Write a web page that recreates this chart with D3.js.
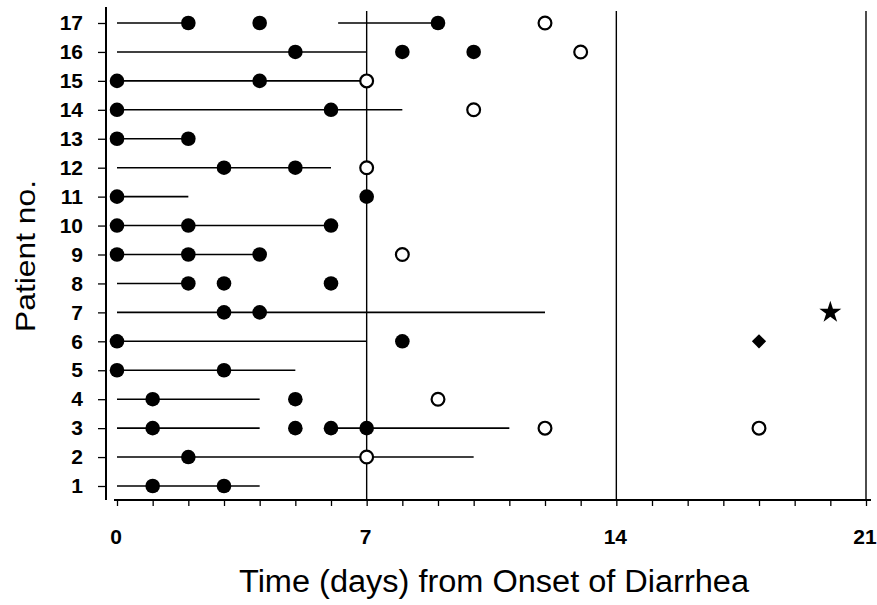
<!DOCTYPE html>
<html>
<head>
<meta charset="utf-8">
<script src="https://d3js.org/d3.v7.min.js"></script>
<style>
  body { margin: 0; background: #fff; }
  text { font-family: "Liberation Sans", Arial, sans-serif; fill: #000; }
</style>
</head>
<body>
<div id="chart"></div>
<script>
// patients on the y axis
var patients = d3.range(1, 18);
// horizontal bars: [patient, from day, to day]
var segments = [
  [17, 0, 2], [17, 6.2, 9],
  [16, 0, 7],
  [15, 0, 7],
  [14, 0, 8],
  [13, 0, 2],
  [12, 0, 6],
  [11, 0, 2],
  [10, 0, 6],
  [9, 0, 4],
  [8, 0, 2],
  [7, 0, 12],
  [6, 0, 7],
  [5, 0, 5],
  [4, 0, 4],
  [3, 0, 4], [3, 6, 11],
  [2, 0, 10],
  [1, 0, 4]
];
// filled circles: [patient, day]
var filled = [
  [17, 2], [17, 4], [17, 9],
  [16, 5], [16, 8], [16, 10],
  [15, 0], [15, 4],
  [14, 0], [14, 6],
  [13, 0], [13, 2],
  [12, 3], [12, 5],
  [11, 0], [11, 7],
  [10, 0], [10, 2], [10, 6],
  [9, 0], [9, 2], [9, 4],
  [8, 2], [8, 3], [8, 6],
  [7, 3], [7, 4],
  [6, 0], [6, 8],
  [5, 0], [5, 3],
  [4, 1], [4, 5],
  [3, 1], [3, 5], [3, 6], [3, 7],
  [2, 2],
  [1, 1], [1, 3]
];
// open circles: [patient, day]
var open = [
  [17, 12], [16, 13], [15, 7], [14, 10], [12, 7],
  [9, 8], [4, 9], [3, 12], [3, 18], [2, 7]
];
var diamonds = [[6, 18]];
var stars = [[7, 20]];
var dayTicks = d3.range(0, 22);
var dayLabels = [0, 7, 14, 21];
var refLines = [7, 14, 21];

var width = 877, height = 605;
var svg = d3.select("#chart").append("svg")
  .attr("width", width)
  .attr("height", height);

var x = d3.scaleLinear().domain([0, 21]).range([117, 866]);
var y = d3.scaleLinear().domain([1, 17]).range([486, 23]);

// vertical reference lines
svg.selectAll(".ref")
  .data(refLines)
  .enter().append("line")
  .attr("x1", d => x(d)).attr("x2", d => x(d))
  .attr("y1", 11).attr("y2", 500)
  .attr("stroke", "#000").attr("stroke-width", 1.4);

// y axis
var yAxis = svg.append("g")
  .attr("transform", "translate(106,0)")
  .call(d3.axisLeft(y).tickValues(patients).tickSize(8).tickPadding(15).tickSizeOuter(0));
yAxis.select(".domain").remove();
yAxis.append("line").attr("x1", 0).attr("x2", 0).attr("y1", 7).attr("y2", 500)
  .attr("stroke", "#000").attr("stroke-width", 2);
yAxis.selectAll(".tick line").attr("stroke-width", 1.3);
yAxis.selectAll(".tick text")
  .style("font-size", "21px").style("font-weight", "bold")
  .attr("font-family", null);

// x axis
var xAxis = svg.append("g")
  .attr("transform", "translate(0,500)")
  .call(d3.axisBottom(x).tickValues(dayTicks).tickSize(6).tickSizeOuter(0).tickFormat(""));
xAxis.select(".domain").remove();
xAxis.append("line").attr("x1", 114).attr("x2", 871).attr("y1", 0).attr("y2", 0)
  .attr("stroke", "#000").attr("stroke-width", 2);
xAxis.selectAll(".tick line").attr("stroke-width", 1.3);

svg.selectAll(".xlab")
  .data(dayLabels)
  .enter().append("text")
  .attr("x", d => x(d) - 1)
  .attr("y", 544)
  .attr("text-anchor", "middle")
  .style("font-size", "21px").style("font-weight", "bold")
  .text(d => d);

// segments
svg.selectAll(".seg")
  .data(segments)
  .enter().append("line")
  .attr("x1", d => x(d[1])).attr("x2", d => x(d[2]))
  .attr("y1", d => y(d[0])).attr("y2", d => y(d[0]))
  .attr("stroke", "#000").attr("stroke-width", 1.6);

// filled dots
svg.selectAll(".dot")
  .data(filled)
  .enter().append("circle")
  .attr("cx", d => x(d[1])).attr("cy", d => y(d[0]))
  .attr("r", 7.3).attr("fill", "#000");

// open dots
svg.selectAll(".odot")
  .data(open)
  .enter().append("circle")
  .attr("cx", d => x(d[1])).attr("cy", d => y(d[0]))
  .attr("r", 6.4).attr("fill", "#fff")
  .attr("stroke", "#000").attr("stroke-width", 2.2);

// diamond
svg.selectAll(".dia")
  .data(diamonds)
  .enter().append("path")
  .attr("transform", d => "translate(" + x(d[1]) + "," + y(d[0]) + ")")
  .attr("d", d3.symbol().type(d3.symbolDiamond2).size(130))
  .attr("fill", "#000");

// star
svg.selectAll(".star")
  .data(stars)
  .enter().append("path")
  .attr("transform", d => "translate(" + x(d[1]) + "," + y(d[0]) + ")")
  .attr("d", d3.symbol().type(d3.symbolStar).size(150))
  .attr("fill", "#000");

// axis titles
svg.append("text")
  .attr("x", 494).attr("y", 592)
  .attr("text-anchor", "middle")
  .attr("textLength", 510)
  .attr("lengthAdjust", "spacingAndGlyphs")
  .style("font-size", "31px")
  .text("Time (days) from Onset of Diarrhea");

svg.append("text")
  .attr("transform", "translate(35,256) rotate(-90)")
  .attr("text-anchor", "middle")
  .attr("textLength", 152)
  .attr("lengthAdjust", "spacingAndGlyphs")
  .style("font-size", "28px")
  .text("Patient no.");
</script>
</body>
</html>
